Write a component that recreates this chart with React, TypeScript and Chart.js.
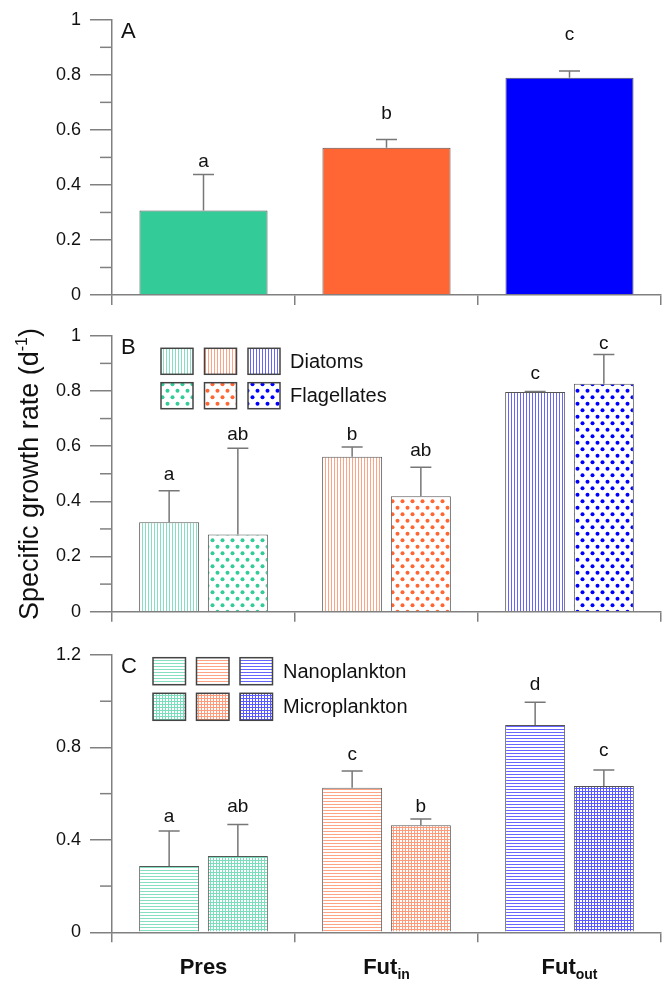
import React, { useEffect, useRef } from "react";
import { Chart, registerables } from "chart.js";
Chart.register(...registerables);

// ---------- data ----------
const categories = ["Pres", "Fut", "Fut"];
const categorySubscripts = ["", "in", "out"];

const totalValues = [0.307, 0.535, 0.789];
const totalErrors = [0.131, 0.03, 0.025];
const totalLetters = ["a", "b", "c"];
const totalLetterY = [0.484, 0.657, 0.946];

const diatomValues = [0.324, 0.562, 0.796];
const diatomErrors = [0.114, 0.035, 0.002];
const diatomLetters = ["a", "b", "c"];
const diatomLetterY = [0.498, 0.64, 0.862];

const flagellateValues = [0.28, 0.418, 0.826];
const flagellateErrors = [0.312, 0.106, 0.106];
const flagellateLetters = ["ab", "ab", "c"];
const flagellateLetterY = [0.642, 0.582, 0.97];

const nanoValues = [0.287, 0.626, 0.897];
const nanoErrors = [0.151, 0.072, 0.098];
const nanoLetters = ["a", "c", "d"];
const nanoLetterY = [0.5, 0.77, 1.073];

const microValues = [0.33, 0.463, 0.633];
const microErrors = [0.137, 0.027, 0.069];
const microLetters = ["ab", "b", "c"];
const microLetterY = [0.543, 0.543, 0.785];

const yTicksAB = [0, 0.2, 0.4, 0.6, 0.8, 1];
const yMinorAB = [0.1, 0.3, 0.5, 0.7, 0.9];
const yTicksC = [0, 0.4, 0.8, 1.2];
const yMinorC = [0.2, 0.6, 1.0];

const legendBLabels = ["Diatoms", "Flagellates"];
const legendCLabels = ["Nanoplankton", "Microplankton"];
const panelLabels = ["A", "B", "C"];
const yAxisTitle = "Specific growth rate (d";
const yAxisTitleSup = "-1";

// ---------- style ----------
const FONT = '"Liberation Sans", Arial, Helvetica, sans-serif';
const COLORS = ["#33CC99", "#FF6633", "#0000FF"];
const AXIS = "#808080";
const TEXT = "#111111";

function makePattern(kind: string, color: string): CanvasPattern | string {
  const c = document.createElement("canvas");
  const g = c.getContext("2d")!;
  if (kind === "vlines" || kind === "hlines") {
    c.width = 3;
    c.height = 3;
    g.fillStyle = "#fff";
    g.fillRect(0, 0, 3, 3);
    g.globalAlpha = 0.6;
    g.fillStyle = color;
    if (kind === "vlines") g.fillRect(1, 0, 1, 3);
    else g.fillRect(0, 1, 3, 1);
  } else if (kind === "dots") {
    c.width = 10;
    c.height = 13;
    g.fillStyle = "#fff";
    g.fillRect(0, 0, 10, 13);
    g.fillStyle = color;
    g.beginPath();
    g.arc(2.5, 3.25, 2, 0, Math.PI * 2);
    g.fill();
    g.beginPath();
    g.arc(7.5, 9.75, 2, 0, Math.PI * 2);
    g.fill();
  } else if (kind === "mesh") {
    c.width = 3;
    c.height = 3;
    g.fillStyle = "#fff";
    g.fillRect(0, 0, 3, 3);
    g.globalAlpha = 0.65;
    g.fillStyle = color;
    g.fillRect(0, 0, 3, 1);
    g.fillRect(0, 1, 1, 2);
  } else {
    return color;
  }
  return g.createPattern(c, "repeat")!;
}

interface PanelSpec {
  panel: string;
  height: number;
  topPad: number;
  areaH: number;
  yMax: number;
  yTicks: number[];
  yMinor: number[];
  panelLabelY: number;
  datasets: any[];
  categoryPercentage: number;
  barPercentage: number;
  legend?: { rows: { kind: string; label: string; top: number }[]; boxXs: number[]; boxW: number; boxH: number; textX: number };
  xLabels?: { baseline: number };
  yTitle?: { x: number; cy: number };
}

function buildChart(canvas: HTMLCanvasElement, spec: PanelSpec) {
  const decor = {
    id: "decor" + spec.panel,
    afterDraw(chart: any) {
      const ctx: CanvasRenderingContext2D = chart.ctx;
      const y = chart.scales.y;
      const x = chart.scales.x;
      const area = chart.chartArea;
      ctx.save();
      // minor ticks
      ctx.strokeStyle = AXIS;
      ctx.lineWidth = 1.5;
      spec.yMinor.forEach((v) => {
        const py = y.getPixelForValue(v);
        ctx.beginPath();
        ctx.moveTo(area.left - 12, py);
        ctx.lineTo(area.left, py);
        ctx.stroke();
      });
      // error bars + letters
      chart.data.datasets.forEach((ds: any, di: number) => {
        const meta = chart.getDatasetMeta(di);
        meta.data.forEach((bar: any, i: number) => {
          const v = ds.data[i];
          const e = ds.errors[i];
          const yb = y.getPixelForValue(v);
          const yt = y.getPixelForValue(v + e);
          ctx.strokeStyle = "#777";
          ctx.lineWidth = 1.5;
          ctx.beginPath();
          ctx.moveTo(bar.x, yb);
          ctx.lineTo(bar.x, yt);
          ctx.moveTo(bar.x - 10.5, yt);
          ctx.lineTo(bar.x + 10.5, yt);
          ctx.stroke();
          ctx.fillStyle = TEXT;
          ctx.font = `19px ${FONT}`;
          ctx.textAlign = "center";
          ctx.textBaseline = "middle";
          ctx.fillText(ds.letters[i], bar.x, y.getPixelForValue(ds.letterY[i]));
        });
      });
      // panel label
      ctx.fillStyle = TEXT;
      ctx.font = `22px ${FONT}`;
      ctx.textAlign = "left";
      ctx.textBaseline = "middle";
      ctx.fillText(spec.panel, area.left + 9, spec.panelLabelY);
      // legend
      if (spec.legend) {
        const L = spec.legend;
        L.rows.forEach((row) => {
          L.boxXs.forEach((bx, ci) => {
            ctx.fillStyle = makePattern(row.kind, COLORS[ci]) as any;
            ctx.fillRect(bx, row.top, L.boxW, L.boxH);
            ctx.strokeStyle = "#444";
            ctx.lineWidth = 1.5;
            ctx.strokeRect(bx, row.top, L.boxW, L.boxH);
          });
          ctx.fillStyle = TEXT;
          ctx.font = `20px ${FONT}`;
          ctx.textAlign = "left";
          ctx.textBaseline = "middle";
          ctx.fillText(row.label, L.textX, row.top + L.boxH / 2 + 1);
        });
      }
      // x category labels with subscripts
      if (spec.xLabels) {
        ctx.fillStyle = TEXT;
        ctx.textBaseline = "alphabetic";
        ctx.textAlign = "left";
        categories.forEach((lab, i) => {
          const cx = x.getPixelForValue(i);
          ctx.font = `bold 22px ${FONT}`;
          const w1 = ctx.measureText(lab).width;
          ctx.font = `bold 14px ${FONT}`;
          const sub = categorySubscripts[i];
          const w2 = sub ? ctx.measureText(sub).width : 0;
          const sx = cx - (w1 + w2) / 2;
          ctx.font = `bold 22px ${FONT}`;
          ctx.fillText(lab, sx, spec.xLabels!.baseline);
          if (sub) {
            ctx.font = `bold 14px ${FONT}`;
            ctx.fillText(sub, sx + w1, spec.xLabels!.baseline + 5);
          }
        });
      }
      // y axis title
      if (spec.yTitle) {
        ctx.save();
        ctx.translate(spec.yTitle.x, spec.yTitle.cy);
        ctx.rotate(-Math.PI / 2);
        ctx.fillStyle = TEXT;
        ctx.textAlign = "left";
        ctx.textBaseline = "alphabetic";
        ctx.font = `27px ${FONT}`;
        const w1 = ctx.measureText(yAxisTitle).width;
        const w3 = ctx.measureText(")").width;
        ctx.font = `16px ${FONT}`;
        const w2 = ctx.measureText(yAxisTitleSup).width;
        const sx = -(w1 + w2 + w3) / 2;
        ctx.font = `27px ${FONT}`;
        ctx.fillText(yAxisTitle, sx, 0);
        ctx.font = `16px ${FONT}`;
        ctx.fillText(yAxisTitleSup, sx + w1, -11);
        ctx.font = `27px ${FONT}`;
        ctx.fillText(")", sx + w1 + w2, 0);
        ctx.restore();
      }
      ctx.restore();
    },
  };

  const xHeight = spec.height - spec.topPad - spec.areaH;
  return new Chart(canvas, {
    type: "bar",
    data: { labels: categories, datasets: spec.datasets },
    options: {
      responsive: false,
      animation: false,
      devicePixelRatio: 1,
      events: [],
      layout: { padding: { left: 0, right: 6, top: spec.topPad, bottom: 0 } },
      plugins: { legend: { display: false }, tooltip: { enabled: false } },
      datasets: {
        bar: {
          categoryPercentage: spec.categoryPercentage,
          barPercentage: spec.barPercentage,
        },
      },
      scales: {
        x: {
          type: "category",
          offset: true,
          grid: { offset: true, drawOnChartArea: false, drawTicks: true, tickLength: 10, color: AXIS, lineWidth: 1.5 },
          border: { display: true, color: AXIS, width: 1.5 },
          ticks: { display: false },
          afterFit: (s: any) => {
            s.height = xHeight;
          },
        },
        y: {
          min: 0,
          max: spec.yMax,
          grid: { drawOnChartArea: false, drawTicks: true, tickLength: 22, color: AXIS, lineWidth: 1.5 },
          border: { display: true, color: AXIS, width: 1.5 },
          ticks: {
            color: TEXT,
            font: { family: FONT, size: 18 },
            padding: 9,
            callback: (v: any) => String(Math.round(Number(v) * 10) / 10),
          },
          afterBuildTicks: (s: any) => {
            s.ticks = spec.yTicks.map((v) => ({ value: v }));
          },
          afterFit: (s: any) => {
            s.width = 112;
          },
        },
      },
    } as any,
    plugins: [decor as any],
  });
}

export default function App() {
  const refA = useRef<HTMLCanvasElement>(null);
  const refB = useRef<HTMLCanvasElement>(null);
  const refC = useRef<HTMLCanvasElement>(null);

  useEffect(() => {
    const border = "#555";
    const charts = [
      buildChart(refA.current!, {
        panel: panelLabels[0],
        height: 316,
        topPad: 18,
        areaH: 277,
        yMax: 1,
        yTicks: yTicksAB,
        yMinor: yMinorAB,
        panelLabelY: 32,
        categoryPercentage: 0.7,
        barPercentage: 1,
        datasets: [
          {
            data: totalValues,
            errors: totalErrors,
            letters: totalLetters,
            letterY: totalLetterY,
            backgroundColor: COLORS,
            borderColor: border,
            borderWidth: 1,
          },
        ],
      }),
      buildChart(refB.current!, {
        panel: panelLabels[1],
        height: 316,
        topPad: 18,
        areaH: 277.7,
        yMax: 1,
        yTicks: yTicksAB,
        yMinor: yMinorAB,
        panelLabelY: 32.3,
        categoryPercentage: 0.751,
        barPercentage: 0.873,
        legend: {
          rows: [
            { kind: "vlines", label: legendBLabels[0], top: 32.3 },
            { kind: "dots", label: legendBLabels[1], top: 66.7 },
          ],
          boxXs: [161, 204.5, 248],
          boxW: 32,
          boxH: 26,
          textX: 290,
        },
        yTitle: { x: 38, cy: 158 },
        datasets: [
          {
            data: diatomValues,
            errors: diatomErrors,
            letters: diatomLetters,
            letterY: diatomLetterY,
            backgroundColor: COLORS.map((c) => makePattern("vlines", c)),
            borderColor: border,
            borderWidth: 1,
          },
          {
            data: flagellateValues,
            errors: flagellateErrors,
            letters: flagellateLetters,
            letterY: flagellateLetterY,
            backgroundColor: COLORS.map((c) => makePattern("dots", c)),
            borderColor: border,
            borderWidth: 1,
          },
        ],
      }),
      buildChart(refC.current!, {
        panel: panelLabels[2],
        height: 349,
        topPad: 23,
        areaH: 277.3,
        yMax: 1.2,
        yTicks: yTicksC,
        yMinor: yMinorC,
        panelLabelY: 34.7,
        categoryPercentage: 0.751,
        barPercentage: 0.873,
        legend: {
          rows: [
            { kind: "hlines", label: legendCLabels[0], top: 25.7 },
            { kind: "mesh", label: legendCLabels[1], top: 61.3 },
          ],
          boxXs: [153, 196.5, 240],
          boxW: 32.5,
          boxH: 27,
          textX: 283,
        },
        xLabels: { baseline: 342 },
        datasets: [
          {
            data: nanoValues,
            errors: nanoErrors,
            letters: nanoLetters,
            letterY: nanoLetterY,
            backgroundColor: COLORS.map((c) => makePattern("hlines", c)),
            borderColor: border,
            borderWidth: 1,
          },
          {
            data: microValues,
            errors: microErrors,
            letters: microLetters,
            letterY: microLetterY,
            backgroundColor: COLORS.map((c) => makePattern("mesh", c)),
            borderColor: border,
            borderWidth: 1,
          },
        ],
      }),
    ];
    return () => charts.forEach((c) => c.destroy());
  }, []);

  const cs = (top: number, h: number): React.CSSProperties => ({
    position: "absolute",
    left: 0,
    top,
    width: 667,
    height: h,
  });

  return (
    <div style={{ position: "absolute", left: 0, top: 0, width: 667, height: 981, background: "#fff", overflow: "hidden" }}>
      <canvas ref={refA} width={667} height={316} style={cs(0, 316)} />
      <canvas ref={refB} width={667} height={316} style={cs(316, 316)} />
      <canvas ref={refC} width={667} height={349} style={cs(632, 349)} />
    </div>
  );
}
